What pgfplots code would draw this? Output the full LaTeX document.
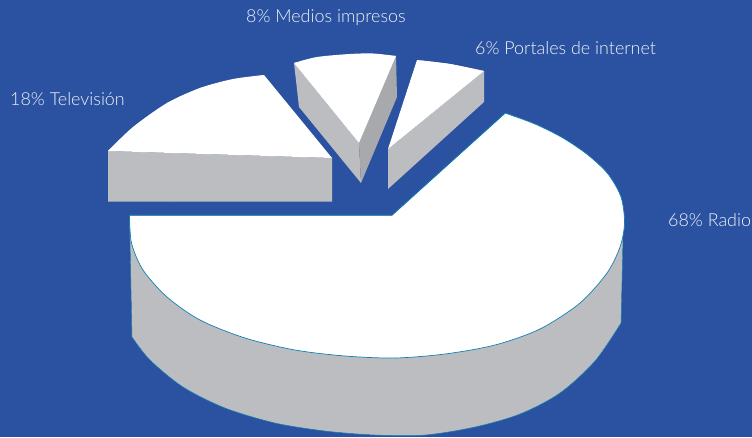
\documentclass[border=0pt]{standalone}
\usepackage{fontspec}
\setmainfont{Lato}[UprightFont=* Light]
\usepackage{pgfplots}
\pgfplotsset{compat=1.18}
\definecolor{bgblue}{HTML}{2B52A0}
\definecolor{sidegray}{HTML}{BCBDC0}
\definecolor{darkgray}{HTML}{A7A9AC}
\definecolor{edgeteal}{HTML}{0F7FB0}
\definecolor{labeltxt}{HTML}{F0F3F9}
\tikzset{lab/.style={anchor=base west, text=labeltxt, inner sep=0pt, font=\fontsize{17.9}{20}\selectfont}}
\begin{document}
\begin{tikzpicture}
\begin{axis}[
  at={(0pt,0pt)}, anchor=south west,
  scale only axis, width=752pt, height=437pt,
  xmin=0, xmax=752, ymin=0, ymax=437, y dir=reverse,
  hide axis, clip=true,
  every axis plot/.append style={no markers},
]
% background
\addplot[fill=bgblue, draw=none] coordinates {(0,0) (752,0) (752,437) (0,437)} -- cycle;
% Radio: side
\addplot[fill=sidegray, draw=none, smooth] coordinates {(132,337) (150,360) (183,387) (225,408) (275,423) (325,431) (375,435) (425,435) (475,427) (520,414) (560,393) (595,361) (621,323)};
\addplot[fill=sidegray, draw=none] coordinates {(129.5,215) (132,337) (225,400) (375,425) (520,405) (621,323) (623,237)} -- cycle;
% Radio: top
\addplot[fill=white, draw=none, smooth] coordinates {(129.5,215) (131.5,243) (143,270) (167,297) (200,320) (245,338) (295,350) (345,356) (395,358) (445,354) (495,345) (540,329) (580,303) (607,273) (620,247) (624.5,223) (621,197) (608,174) (588,155) (563,138) (535,124) (505,113)};
\addplot[fill=bgblue, draw=bgblue, line width=1pt] coordinates {(129.5,215) (392,215) (505,113)} -- cycle;
% Television
\addplot[fill=sidegray, draw=none] coordinates {(108,151) (332,158) (332,201.5) (108,201.5)} -- cycle;
\addplot[fill=white, draw=none, smooth] coordinates {(108,151) (133,127) (167,103) (200,88) (233,79) (264,75)};
\addplot[fill=white, draw=none] coordinates {(108,151) (167,103) (200,88) (264,75) (332,158)} -- cycle;
% Medios impresos
\addplot[fill=sidegray, draw=none] coordinates {(294,63) (359,143) (361,183) (299,107)} -- cycle;
\addplot[fill=darkgray, draw=none] coordinates {(396,56) (359,143) (361,183) (397,97)} -- cycle;
\addplot[fill=white, draw=none, smooth] coordinates {(294,63) (317,57) (350,54) (373,53.5) (396,56)};
\addplot[fill=white, draw=none] coordinates {(294,63) (350,54) (396,56) (359,143)} -- cycle;
% Portales de internet
\addplot[fill=sidegray, draw=none] coordinates {(388,149) (484,71) (484,102) (388,189)} -- cycle;
\addplot[fill=white, draw=none, smooth] coordinates {(417,60) (450,64) (484,71)};
\addplot[fill=white, draw=none] coordinates {(417,60) (450,64) (484,71) (388,149)} -- cycle;
% Radio: outlines
\addplot[draw=edgeteal, line width=0.7pt] coordinates {(505,113) (392,215) (129.5,215)};
\addplot[draw=edgeteal, line width=0.7pt, smooth] coordinates {(129.5,215) (131.5,243) (143,270) (167,297) (200,320) (245,338) (295,350) (345,356) (395,358) (445,354) (495,345) (540,329) (580,303) (607,273) (620,247) (624.5,223) (621,197) (608,174) (588,155) (563,138) (535,124) (505,113)};
\addplot[draw=edgeteal, line width=0.5pt, smooth] coordinates {(132,337) (150,360) (183,387) (225,408) (275,423) (325,431) (375,435) (425,435) (475,427) (520,414) (560,393) (595,361) (621,323)};
\addplot[draw=edgeteal, line width=0.4pt] coordinates {(129.5,215) (132,337)};
\addplot[draw=edgeteal, line width=0.4pt] coordinates {(623,237) (621,323)};
% labels
\node[lab] at (axis cs:10,105) {18\% Televisión};
\node[lab] at (axis cs:246,22.7) {8\% Medios impresos};
\node[lab] at (axis cs:475,54) {6\% Portales de internet};
\node[lab] at (axis cs:668,226.7) {68\% Radio};
\end{axis}
\end{tikzpicture}
\end{document}
